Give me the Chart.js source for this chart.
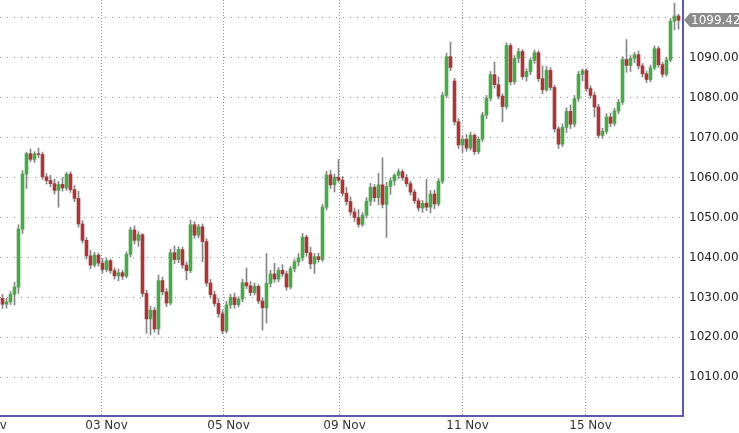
<!DOCTYPE html>
<html>
<head>
<meta charset="utf-8">
<script src="https://cdn.jsdelivr.net/npm/chart.js"></script>
<style>
  html, body { margin: 0; padding: 0; background: #fff; }
  canvas { display: block; }
</style>
</head>
<body>
<canvas id="priceChart" width="739" height="433"></canvas>
<script>
// candle data, one bar per ~2h
const open = [
  1029.8,1028.3,1028.9,1030.8,1032.6,1047.1,1060.9,1066.0,1064.6,1066.0,
  1065.8,1060.2,1059.3,1058.5,1056.8,1058.3,1057.4,1060.9,1057.0,1054.8,
  1048.4,1044.3,1040.4,1038.1,1040.6,1038.6,1037.0,1039.2,1036.7,1035.4,
  1036.2,1035.3,1040.8,1046.9,1044.3,1045.7,1031.0,1024.6,1026.8,1022.1,
  1034.2,1031.4,1028.6,1041.2,1039.5,1042.0,1038.1,1036.7,1048.2,1045.6,
  1047.7,1044.0,1033.6,1030.7,1028.5,1025.9,1021.6,1028.1,1030.0,1028.2,
  1029.6,1033.7,1032.9,1031.2,1032.8,1029.1,1027.4,1033.5,1035.9,1034.6,
  1036.8,1035.9,1032.6,1037.2,1038.9,1039.9,1045.1,1041.2,1038.4,1040.2,
  1039.5,1052.6,1060.7,1058.2,1060.1,1059.4,1056.1,1054.0,1051.4,1050.0,
  1048.3,1050.6,1054.1,1057.6,1055.0,1058.2,1053.3,1057.8,1059.2,1060.6,
  1061.5,1060.0,1058.5,1056.4,1054.2,1052.4,1053.6,1052.6,1055.9,1053.4,
  1059.1,1080.6,1090.3,1084.2,1074.0,1068.2,1069.6,1067.4,1070.6,1066.5,
  1069.6,1075.7,1079.9,1085.8,1083.3,1080.4,1077.8,1093.1,1084.0,1089.9,
  1091.6,1085.3,1086.6,1089.4,1091.3,1084.8,1082.0,1086.9,1082.6,1072.2,
  1068.4,1072.6,1076.6,1073.4,1079.8,1085.9,1086.8,1082.3,1080.6,1077.7,
  1070.6,1071.6,1075.2,1073.6,1076.7,1078.9,1089.6,1088.1,1089.9,1090.8,
  1088.0,1086.0,1084.6,1087.5,1092.3,1088.3,1085.9,1089.5,1099.2,1100.5
];
const high = [
  1030.8,1029.8,1031.5,1033.8,1048.2,1061.8,1066.4,1067.2,1066.5,1067.4,
  1066.4,1061.0,1060.6,1059.6,1059.1,1060.0,1061.3,1061.5,1058.0,1056.6,
  1049.2,1045.0,1041.8,1041.3,1041.1,1039.8,1039.9,1039.6,1037.4,1037.1,
  1036.8,1041.4,1047.6,1047.9,1046.5,1046.0,1031.8,1027.8,1027.5,1035.6,
  1035.1,1032.2,1042.1,1042.9,1042.7,1042.6,1038.9,1049.4,1049.0,1048.3,
  1048.4,1044.7,1034.5,1031.6,1029.7,1026.8,1029.0,1030.8,1031.1,1030.2,
  1034.6,1037.4,1034.0,1033.6,1033.2,1030.0,1041.0,1036.8,1038.6,1037.5,
  1038.2,1036.6,1037.8,1039.5,1041.0,1046.0,1045.6,1042.6,1041.0,1041.1,
  1053.3,1061.6,1061.8,1060.9,1064.5,1060.3,1057.6,1055.2,1052.4,1052.0,
  1051.3,1055.0,1058.6,1058.3,1061.1,1065.0,1058.8,1060.0,1061.0,1062.2,
  1062.0,1060.8,1059.1,1057.0,1054.8,1054.3,1059.6,1056.8,1056.9,1059.8,
  1081.4,1091.2,1094.0,1084.9,1074.8,1070.4,1070.8,1071.4,1071.0,1070.2,
  1076.4,1080.6,1086.6,1089.0,1085.2,1081.0,1093.8,1093.6,1090.6,1092.4,
  1092.1,1087.3,1090.0,1092.0,1091.8,1088.0,1087.9,1087.6,1083.2,1072.8,
  1073.5,1077.5,1078.2,1080.6,1086.6,1087.2,1087.3,1083.0,1081.4,1078.4,
  1072.4,1076.0,1076.2,1077.4,1079.6,1090.3,1094.6,1090.6,1091.4,1091.7,
  1088.6,1086.7,1088.2,1093.0,1092.9,1088.9,1090.2,1099.9,1103.7,1100.9
];
const low = [
  1027.2,1027.3,1028.2,1028.1,1031.0,1046.0,1057.3,1064.0,1063.8,1065.0,
  1059.6,1058.4,1057.7,1055.9,1052.6,1056.6,1056.8,1056.3,1054.0,1047.6,
  1043.6,1039.6,1037.2,1037.6,1037.8,1036.1,1036.4,1036.0,1034.6,1034.2,
  1034.5,1034.9,1040.1,1043.4,1042.8,1030.2,1021.0,1020.6,1021.3,1020.7,
  1030.6,1027.7,1028.1,1038.4,1038.7,1037.3,1034.4,1036.2,1044.8,1044.9,
  1038.9,1032.8,1029.8,1027.8,1025.0,1020.9,1021.1,1027.2,1027.3,1027.6,
  1028.9,1032.2,1030.4,1030.6,1028.4,1021.8,1023.6,1032.6,1033.8,1033.9,
  1035.2,1031.8,1032.1,1036.4,1037.9,1039.2,1040.3,1037.2,1036.0,1038.8,
  1039.0,1051.9,1057.3,1056.4,1058.8,1055.4,1053.1,1050.6,1049.0,1047.6,
  1047.8,1049.9,1053.0,1054.0,1053.2,1052.4,1045.0,1055.8,1058.1,1059.7,
  1059.3,1057.8,1055.6,1053.5,1051.6,1051.3,1051.7,1051.2,1052.2,1052.9,
  1058.5,1080.0,1086.8,1073.2,1067.3,1066.3,1066.6,1066.9,1065.8,1066.0,
  1069.0,1074.8,1079.2,1082.4,1079.7,1074.0,1077.2,1083.2,1083.4,1088.8,
  1084.6,1084.2,1085.8,1088.6,1084.1,1081.0,1081.6,1081.9,1071.4,1067.3,
  1067.8,1071.3,1072.3,1072.7,1079.1,1084.2,1081.6,1079.9,1075.2,1069.9,
  1069.8,1071.0,1072.8,1073.0,1076.0,1078.3,1086.4,1086.6,1088.8,1087.2,
  1085.2,1083.8,1084.0,1087.0,1087.6,1085.2,1085.4,1089.0,1097.0,1097.2
];
const close = [
  1028.3,1028.9,1030.8,1032.6,1047.1,1060.9,1066.0,1064.6,1066.0,1065.8,
  1060.2,1059.3,1058.5,1056.8,1058.3,1057.4,1060.9,1057.0,1054.8,1048.4,
  1044.3,1040.4,1038.1,1040.6,1038.6,1037.0,1039.2,1036.7,1035.4,1036.2,
  1035.3,1040.8,1046.9,1044.3,1045.7,1031.0,1024.6,1026.8,1022.1,1034.2,
  1031.4,1028.6,1041.2,1039.5,1042.0,1038.1,1036.7,1048.2,1045.6,1047.7,
  1044.0,1033.6,1030.7,1028.5,1025.9,1021.6,1028.1,1030.0,1028.2,1029.6,
  1033.7,1032.9,1031.2,1032.8,1029.1,1027.4,1033.5,1035.9,1034.6,1036.8,
  1035.9,1032.6,1037.2,1038.9,1039.9,1045.1,1041.2,1038.4,1040.2,1039.5,
  1052.6,1060.7,1058.2,1060.1,1059.4,1056.1,1054.0,1051.4,1050.0,1048.3,
  1050.6,1054.1,1057.6,1055.0,1058.2,1053.3,1057.8,1059.2,1060.6,1061.5,
  1060.0,1058.5,1056.4,1054.2,1052.4,1053.6,1052.6,1055.9,1053.4,1059.1,
  1080.6,1090.3,1087.6,1074.0,1068.2,1069.6,1067.4,1070.6,1066.5,1069.6,
  1075.7,1079.9,1085.8,1083.3,1080.4,1077.8,1093.1,1084.0,1089.9,1091.6,
  1085.3,1086.6,1089.4,1091.3,1084.8,1082.0,1086.9,1082.6,1072.2,1068.4,
  1072.6,1076.6,1073.4,1079.8,1085.9,1086.8,1082.3,1080.6,1077.7,1070.6,
  1071.6,1075.2,1073.6,1076.7,1078.9,1089.6,1088.1,1089.9,1090.8,1088.0,
  1086.0,1084.6,1087.5,1092.3,1088.3,1085.9,1089.5,1099.2,1100.5,1099.42
];

// date separators (bar index where the label sits) and their labels
const dayLabels = ['01 Nov', '03 Nov', '05 Nov', '09 Nov', '11 Nov', '15 Nov'];
const dayStarts = [-5.625, 24.625, 55.125, 84.125, 114.875, 145.625];

const upColor = '#4ca64c';
const downColor = '#a83838';
const wickColor = '#858585';
const frameColor = '#5a5ab4';
const dotColor = '#8f8f8f';
const font = { family: 'DejaVu Sans', size: 12 };

const bodies = open.map((o, i) => ({ x: i, y: [o, close[i]] }));
const wicks = low.map((l, i) => ({ x: i, y: [l, high[i]] }));

// grey last-price tag on the right axis
const priceTag = {
  id: 'priceTag',
  afterDraw(chart) {
    const ctx = chart.ctx;
    const last = close[close.length - 1];
    const y = Math.round(chart.scales.y.getPixelForValue(last));
    const x = chart.chartArea.right + 1;
    ctx.save();
    ctx.fillStyle = '#8c8c8c';
    ctx.beginPath();
    ctx.moveTo(x, y);
    ctx.lineTo(x + 6, y - 7);
    ctx.lineTo(chart.width, y - 7);
    ctx.lineTo(chart.width, y + 7);
    ctx.lineTo(x + 6, y + 7);
    ctx.closePath();
    ctx.fill();
    ctx.fillStyle = '#fff';
    ctx.font = '12px "DejaVu Sans"';
    ctx.textBaseline = 'middle';
    ctx.fillText(last.toFixed(2), x + 7, y + 1);
    ctx.restore();
  }
};

new Chart(document.getElementById('priceChart'), {
  type: 'bar',
  data: {
    datasets: [
      {
        label: 'body',
        data: bodies,
        backgroundColor: open.map((o, i) => close[i] >= o ? upColor : downColor),
        barThickness: 3,
        grouped: false,
        order: 1
      },
      {
        label: 'wick',
        data: wicks,
        backgroundColor: wickColor,
        barThickness: 1,
        grouped: false,
        order: 2
      }
    ]
  },
  options: {
    responsive: false,
    animation: false,
    layout: { padding: 0 },
    plugins: {
      legend: { display: false },
      tooltip: { enabled: false }
    },
    scales: {
      x: {
        type: 'linear',
        offset: false,
        min: -0.625,
        max: 170.125,
        afterBuildTicks: s => { s.ticks = dayStarts.map(v => ({ value: v })); },
        afterFit: s => { s.height = 17; s.paddingLeft = 0; s.paddingRight = 0; },
        ticks: {
          autoSkip: false,
          maxRotation: 0,
          padding: 3,
          labelOffset: 5.5,
          color: '#333',
          font: font,
          callback: (v, i) => dayLabels[i]
        },
        grid: { color: dotColor, drawTicks: false, offset: false },
        border: { color: frameColor, width: 2, dash: [1, 2] }
      },
      y: {
        position: 'right',
        min: 1000.3,
        max: 1104.5,
        afterFit: s => { s.width = 56; s.paddingTop = 0; s.paddingBottom = 0; },
        ticks: {
          stepSize: 10,
          includeBounds: false,
          padding: 6,
          color: '#222',
          font: font,
          callback: v => v === 1100 ? '' : v.toFixed(2)
        },
        grid: { color: dotColor, drawTicks: false },
        border: { color: frameColor, width: 2, dash: [1, 6] }
      }
    }
  },
  plugins: [priceTag]
});
</script>
</body>
</html>
